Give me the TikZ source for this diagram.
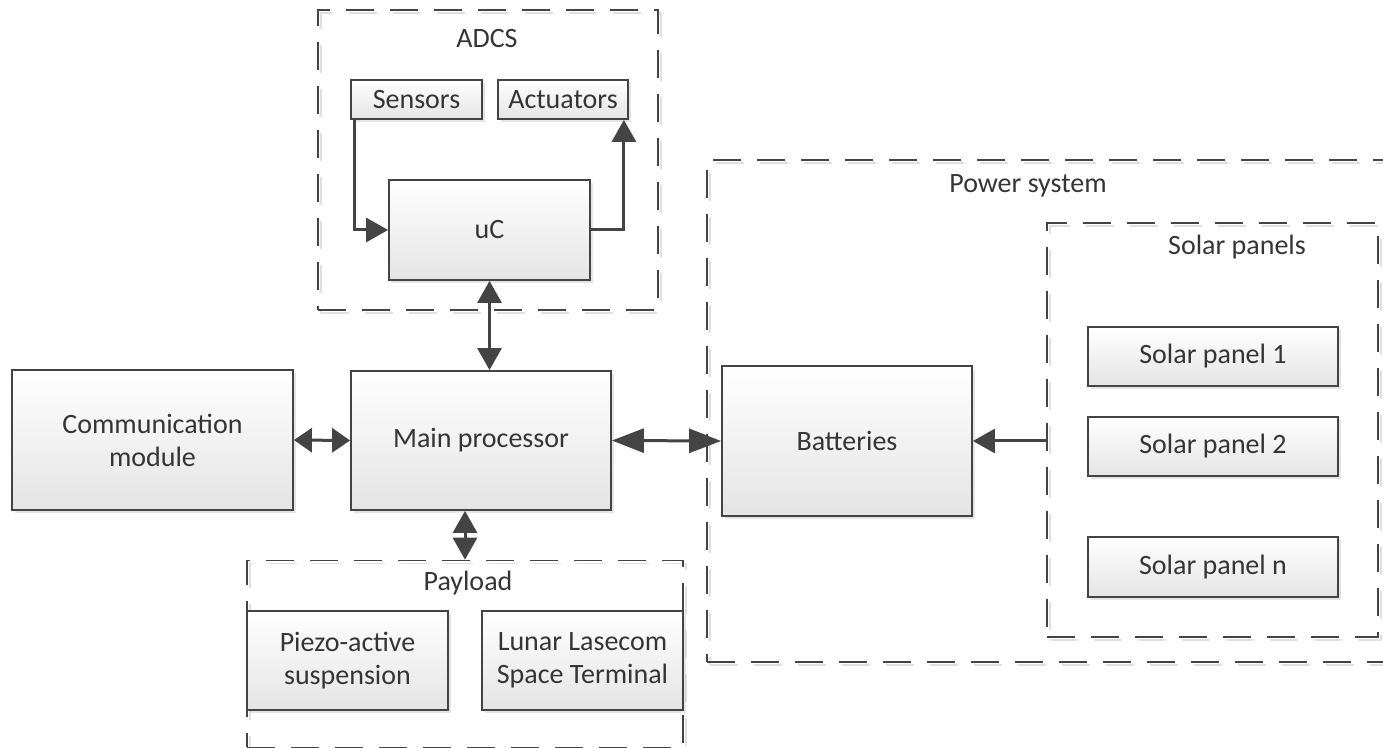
\documentclass[tikz,border=0pt]{standalone}
\usepackage{fontspec}
\setmainfont{Carlito}
\usetikzlibrary{positioning, shapes.geometric, arrows.meta, shadows}

\definecolor{linegray}{HTML}{444444}
\definecolor{textgray}{HTML}{353535}
\definecolor{fillgray}{HTML}{E4E4E4}

\begin{document}
\begin{tikzpicture}[x=0.5pt,y=-0.5pt,>={Triangle[length=11pt,width=12pt]},
    font=\fontsize{14}{16.5}\selectfont,text=textgray]
  \tikzstyle{block}=[draw=linegray,line width=0.9pt,top color=white,bottom color=fillgray,
    align=center,inner sep=0pt,drop shadow={shadow xshift=1.5pt,shadow yshift=-1.5pt,fill=black!20}]
  \tikzstyle{group}=[draw=linegray,dash pattern=on 14pt off 8pt,line width=0.8pt,inner sep=0pt,
    preaction={draw=black!12,transform canvas={xshift=1.5pt,yshift=-1.5pt}}]
  \tikzstyle{link}=[draw=linegray,line width=1.5pt]

  \clip (0,0) rectangle (1383,748);

  % groups
  \node[group,minimum width=170pt,minimum height=150pt]   (adcs)    at (488,160)    {};
  \node[group,minimum width=345pt,minimum height=251pt]   (power)   at (1052,411)   {};
  \node[group,minimum width=165.5pt,minimum height=207pt] (solar)   at (1212.5,430) {};
  \node[group,minimum width=218pt,minimum height=93.5pt]  (payload) at (465,654)    {};

  \node (adcst)    at (487,39)   {ADCS};
  \node (powert)   at (1028,186) {Power system};
  \node (solart)   at (1237,247) {Solar panels};
  \node (payloadt) at (468,583)  {Payload};

  % blocks
  \node[block,minimum width=65.5pt,minimum height=19.5pt] (sensors)   at (416.5,99.5) {Sensors};
  \node[block,minimum width=65pt,minimum height=19.5pt]   (actuators) at (563,99.5)   {Actuators};
  \node[block,minimum width=100.5pt,minimum height=50pt]  (uc)        at (489.5,230)  {uC};
  \node[block,minimum width=130pt,minimum height=69.5pt]  (main)      at (481,440.5)  {Main processor};
  \node[block,minimum width=140.5pt,minimum height=70pt]  (comm)      at (152.5,440)  {Communication\\module};
  \node[block,minimum width=125pt,minimum height=75pt]    (batt)      at (847,441)    {Batteries};
  \node[block,minimum width=125pt,minimum height=29.5pt]  (sp1)       at (1213,356.5) {Solar panel 1};
  \node[block,minimum width=125pt,minimum height=29.5pt]  (sp2)       at (1213,446.5) {Solar panel 2};
  \node[block,minimum width=125pt,minimum height=30pt]    (spn)       at (1213,567)   {Solar panel n};
  \node[block,minimum width=100.5pt,minimum height=49.5pt] (piezo)    at (347.5,660.5) {Piezo-active\\suspension};
  \node[block,minimum width=100.5pt,minimum height=49.5pt] (lunar)    at (582.5,660.5) {Lunar Lasecom\\Space Terminal};

  % links
  \draw[link,->] ([xshift=2pt]sensors.south west) |- (uc.west);
  \draw[link,->] (uc.east) -| ([xshift=-2.5pt]actuators.south east);
  \draw[link,<->] (uc.south) -- (uc.south |- main.north);
  \draw[link,<->,>={Triangle[length=9pt,width=12pt]}] (comm.east) -- (main.west);
  \draw[link,<->,>={Triangle[length=16pt,width=12pt]}] (main.east) -- (batt.west);
  \draw[link,->] (solar.west |- batt.east) -- (batt.east);
  \draw[link,<->] (payload.north |- main.south) -- (payload.north);
\end{tikzpicture}
\end{document}
